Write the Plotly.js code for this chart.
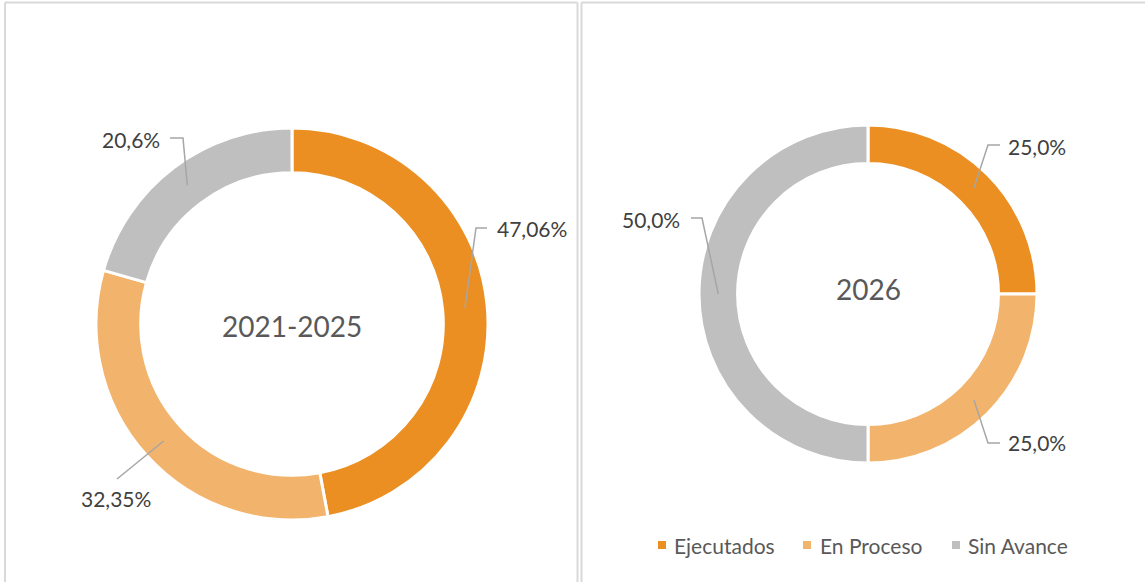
<!DOCTYPE html>
<html><head><meta charset="utf-8">
<script src="https://cdn.plot.ly/plotly-3.0.1.min.js"></script>
<style>html,body{margin:0;padding:0;background:#fff}#chart{width:1145px;height:582px}</style>
</head><body><div id="chart"></div>
<script>
// ---- data ----
const categories = ["Ejecutados", "En Proceso", "Sin Avance"];
const colors = ["#EB8F23", "#F2B46C", "#BFBFBF"];
const periodTitles = ["2021-2025", "2026"];
const values2021_2025 = [47.06, 32.35, 20.59];
const labels2021_2025 = ["47,06%", "32,35%", "20,6%"];
const values2026 = [25.0, 25.0, 50.0];
const labels2026 = ["25,0%", "25,0%", "50,0%"];

// ---- layout config (pixels) ----
const W = 1145, H = 582;
const HOLE = 0.772;
const FONT = "Lato, 'Open Sans', sans-serif";
const X = px => px / W;
const Y = py => 1 - py / H;

const pies = [
  { cx: 292, cy: 324, r: 196, values: values2021_2025, texts: labels2021_2025, title: periodTitles[0], titleY: 326,
    place: [
      { elbow: [476, 228], end: [487, 228], tx: 495, ty: 229, anchor: "left" },
      { elbow: null, end: [117, 479], tx: 116, ty: 498, anchor: "center" },
      { elbow: [183, 138], end: [170, 138], tx: 162, ty: 139, anchor: "right" }
    ] },
  { cx: 868, cy: 294, r: 169, values: values2026, texts: labels2026, title: periodTitles[1], titleY: 289,
    place: [
      { elbow: [988, 145], end: [1000, 145], tx: 1006, ty: 146, anchor: "left" },
      { elbow: [988, 443], end: [1000, 443], tx: 1006, ty: 442, anchor: "left" },
      { elbow: [702, 218], end: [691, 218], tx: 682, ty: 219, anchor: "right" }
    ] }
];

const traces = [];
const annotations = [];
const shapes = [];

pies.forEach(p => {
  traces.push({
    type: "pie",
    labels: categories,
    values: p.values,
    sort: false,
    direction: "clockwise",
    rotation: 0,
    hole: HOLE,
    textinfo: "none",
    showlegend: false,
    marker: { colors: colors, line: { color: "#ffffff", width: 3 } },
    domain: { x: [X(p.cx - p.r), X(p.cx + p.r)], y: [Y(p.cy + p.r), Y(p.cy - p.r)] }
  });
  annotations.push({
    xref: "paper", yref: "paper", x: X(p.cx), y: Y(p.titleY), text: p.title,
    showarrow: false, xanchor: "center", yanchor: "middle",
    font: { family: FONT, size: 28, color: "#595959" }
  });
  const total = p.values.reduce((a, b) => a + b, 0);
  let cum = 0;
  const rMid = p.r * (1 + HOLE) / 2;
  p.values.forEach((v, i) => {
    const mid = (cum + v / 2) / total;
    cum += v;
    const a = mid * 2 * Math.PI;
    const sx = p.cx + rMid * Math.sin(a);
    const sy = p.cy - rMid * Math.cos(a);
    const pl = p.place[i];
    let path = `M${X(sx)},${Y(sy)}`;
    if (pl.elbow) path += ` L${X(pl.elbow[0])},${Y(pl.elbow[1])}`;
    path += ` L${X(pl.end[0])},${Y(pl.end[1])}`;
    shapes.push({ type: "path", xref: "paper", yref: "paper", path: path,
      line: { color: "#A6A6A6", width: 1.5 } });
    annotations.push({
      xref: "paper", yref: "paper", x: X(pl.tx), y: Y(pl.ty), text: p.texts[i],
      showarrow: false, xanchor: pl.anchor, yanchor: "middle",
      font: { family: FONT, size: 21, color: "#404040" }
    });
  });
});

// custom legend
const legendItems = [
  { sq: 658, tx: 672 }, { sq: 803, tx: 818 }, { sq: 952, tx: 966 }
];
const legendY = 545;
legendItems.forEach((it, i) => {
  shapes.push({ type: "rect", xref: "paper", yref: "paper",
    x0: X(it.sq), x1: X(it.sq + 8), y0: Y(legendY + 4), y1: Y(legendY - 4),
    fillcolor: colors[i], line: { width: 0 } });
  annotations.push({ xref: "paper", yref: "paper", x: X(it.tx), y: Y(legendY),
    text: categories[i], showarrow: false, xanchor: "left", yanchor: "middle",
    font: { family: FONT, size: 21, color: "#595959" } });
});

// panel borders
const bc = "#D9D9D9";
[
  [5, 2.5, 577.5, 2.5], [5, 2.5, 5, 582], [577.5, 2.5, 577.5, 582],
  [581.5, 2.5, 1145, 2.5], [581.5, 2.5, 581.5, 582]
].forEach(l => shapes.push({ type: "line", xref: "paper", yref: "paper",
  x0: X(l[0]), y0: Y(l[1]), x1: X(l[2]), y1: Y(l[3]), line: { color: bc, width: 2 } }));

Plotly.newPlot("chart", traces, {
  width: W, height: H,
  margin: { l: 0, r: 0, t: 0, b: 0 },
  paper_bgcolor: "#ffffff",
  showlegend: false,
  annotations: annotations,
  shapes: shapes
}, { displayModeBar: false, staticPlot: true });
</script>
</body></html>
